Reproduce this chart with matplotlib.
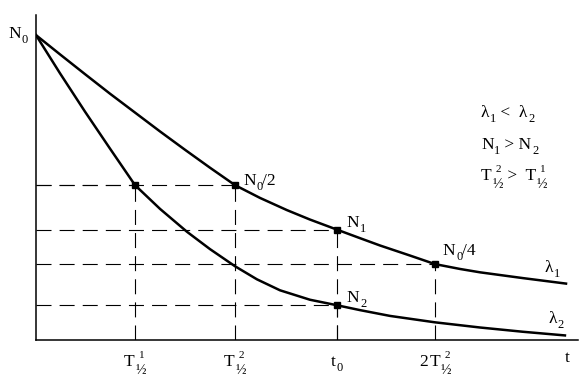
"""
Radioactive decay of two nuclides: half-life construction (N0/2, N0/4, t0).
"""
import matplotlib
matplotlib.use("Agg")
import matplotlib.pyplot as plt

plt.rcParams["font.family"] = ["Liberation Serif", "DejaVu Serif"]

# curves: t in units of T1/2(1), N in % of N0
t_1 = [0, 0.242, 0.495, 0.747, 1.0, 1.253, 1.505, 1.758, 2.010, 2.263, 2.535,
       2.768, 3.040, 3.273, 3.475, 3.778, 4.030, 4.283, 4.485, 4.919, 5.354]
n_1 = [100, 93.7, 87.2, 80.8, 74.6, 68.4, 62.4, 56.5, 50.8, 46.6, 42.6,
       39.5, 36.2, 33.4, 31.0, 27.7, 24.9, 23.3, 22.2, 20.3, 18.5]
t_2 = [0, 0.242, 0.495, 0.747, 1.0, 1.253, 1.525, 1.758, 2.010, 2.232, 2.465,
       2.768, 3.040, 3.273, 3.576, 4.030, 4.485, 4.919, 5.343]
n_2 = [100, 87.5, 74.9, 62.8, 50.8, 43.0, 35.5, 29.8, 24.2, 19.9, 16.3,
       13.2, 11.4, 9.8, 7.9, 5.8, 4.1, 2.7, 1.5]

# marked points on the curves
mark_t = [1.0, 2.01, 3.04, 3.04, 4.03]
mark_n = [50.8, 50.8, 36.2, 11.4, 24.9]

tick_t = [1.0, 2.01, 3.04, 4.03]
t_end = 5.364


def B(s, ox=0):   # base text
    return (s, 12.5, ox, 0, True)


def SUB(s):  # subscript digit
    return (s, 9, 0.5, -5, True)


def HALF(sup):  # superscript digit stacked over a ½ subscript
    return [(sup, 8, 4, 8, False), ("½", 10, 0.5, -8.5, True)]


fig = plt.figure(figsize=(5.87, 3.89), dpi=100)
ax = fig.add_axes([36 / 587, 49 / 389, 542 / 587, 325 / 389])
ax.set_xlim(0, 5.475)
ax.set_ylim(0, 106.6)
for s in ("top", "right"):
    ax.spines[s].set_visible(False)
for s in ("left", "bottom"):
    ax.spines[s].set_linewidth(1.1)
ax.set_xticks([]); ax.set_yticks([])
ax.patch.set_alpha(0)
renderer = fig.canvas.get_renderer()


def rich(x, y, parts, ha="left", dx=0, dy=0):
    """Lay out base/sub/sup pieces left to right, offsets in pixels."""
    objs, cursor, right = [], 0.0, 0.0
    for s, size, ox, oy, adv in parts:
        t = ax.annotate(s, (x, y), xytext=(0, 0), textcoords="offset pixels",
                        fontsize=size, va="baseline", ha="left",
                        annotation_clip=False)
        w = t.get_window_extent(renderer).width
        pos = cursor + ox
        objs.append((t, pos, oy))
        right = max(right, pos + w)
        if adv:
            cursor = pos + w
    shift = {"left": 0, "center": -right / 2, "right": -right}[ha]
    for t, pos, oy in objs:
        t.xyann = (pos + shift + dx, oy + dy)


dash = dict(color="black", lw=0.8, dashes=(13.5, 7.3), zorder=1)
for t, n in zip(mark_t, mark_n):
    ax.plot([0, t], [n, n], **dash)
    ax.plot([t, t], [0, n], **dash)

ax.plot(t_1, n_1, color="black", lw=1.8, zorder=3)
ax.plot(t_2, n_2, color="black", lw=1.8, zorder=3)
ax.plot(mark_t, mark_n, ls="none", marker="s", ms=4.8, color="black", zorder=4)

# point labels
rich(mark_t[1], mark_n[1], [B("N"), SUB("0"), B("/2")], dx=8, dy=0)
rich(mark_t[2], mark_n[2], [B("N"), SUB("1")], dx=10, dy=3)
rich(mark_t[3], mark_n[3], [B("N"), SUB("2")], dx=10, dy=3)
rich(mark_t[4], mark_n[4], [B("N"), SUB("0"), B("/4")], dx=8, dy=9)

# axis labels
rich(0, 100, [B("N"), SUB("0")], dx=-28, dy=-3)
rich(t_end, 0, [B("t")], ha="center", dy=-22)
rich(tick_t[0], 0, [B("T")] + HALF("1"), ha="center", dy=-26)
rich(tick_t[1], 0, [B("T")] + HALF("2"), ha="center", dy=-26)
rich(tick_t[2], 0, [B("t"), SUB("0")], ha="center", dy=-26)
rich(tick_t[3], 0, [B("2"), B("T", 2)] + HALF("2"), ha="center", dy=-26)

# curve names
rich(5.141, 22.3, [B("λ"), SUB("1")])
rich(5.172, 5.57, [B("λ"), SUB("2")])

# relations
rich(4.495, 73.1, [B("λ"), SUB("1"), B(" <  λ"), SUB("2")])
rich(4.495, 62.6, [B("N"), SUB("1"), B(" > N"), SUB("2")])
rich(4.495, 52.6, [B("T")] + HALF("2") + [B(" >  T")] + HALF("1"))

fig.savefig("out.png", dpi=100)
